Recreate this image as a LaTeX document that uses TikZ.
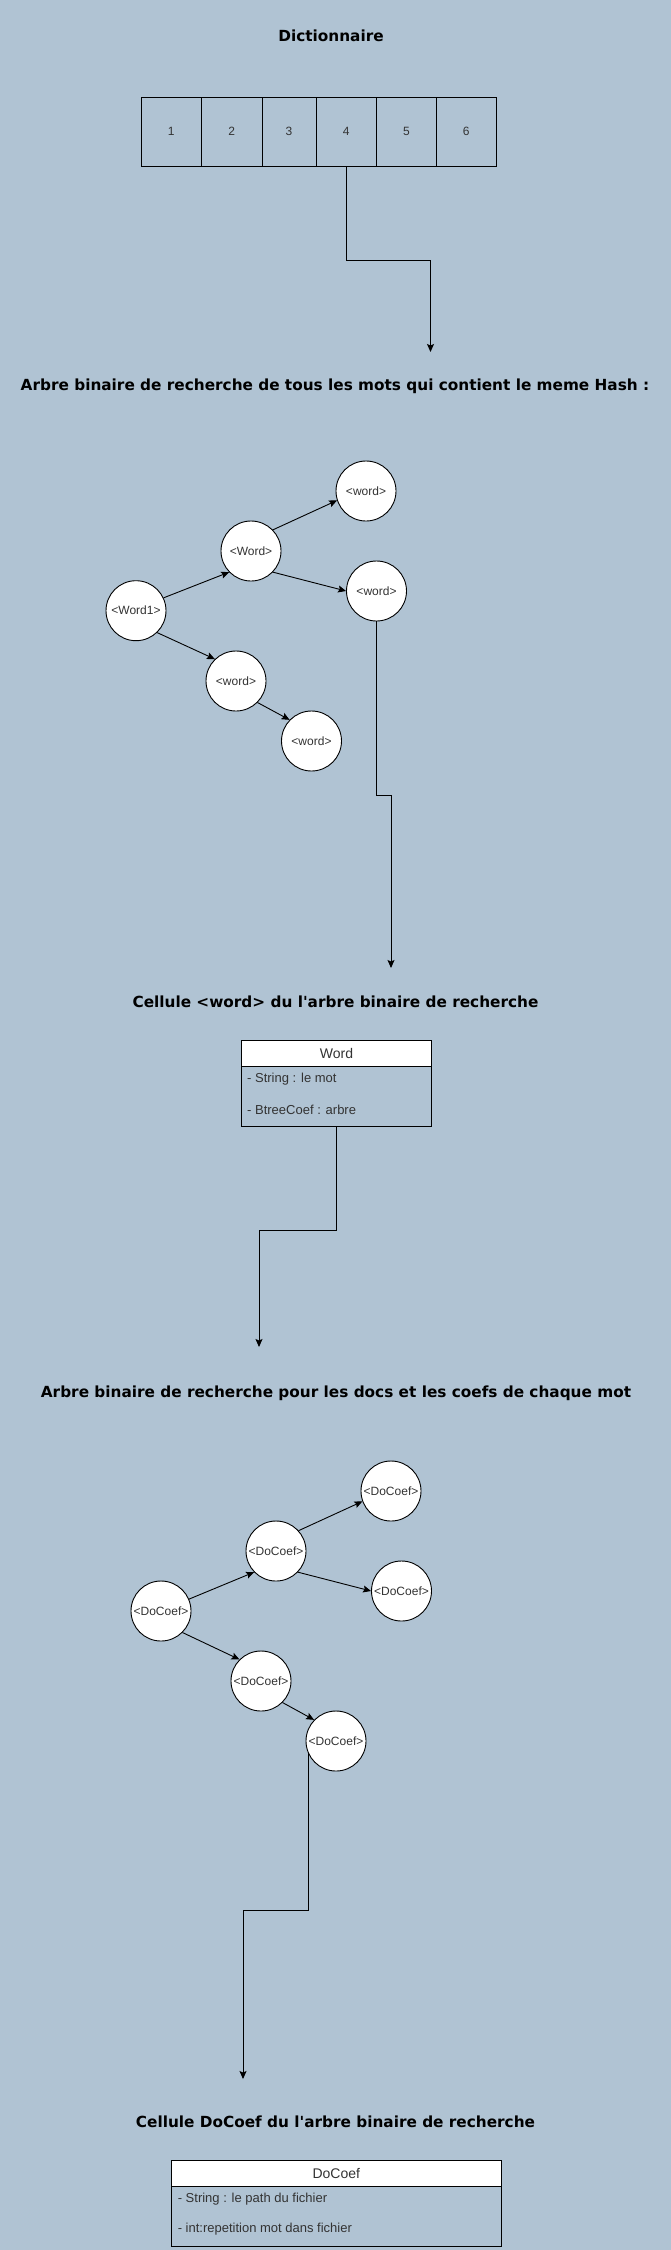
\documentclass[tikz,border=0pt]{standalone}
\usepackage{fontspec}
\setmainfont{Liberation Sans}
\newfontfamily\titlefont{DejaVu Sans}
\usetikzlibrary{arrows.meta}
\definecolor{bg}{HTML}{B0C3D3}
\definecolor{txt}{HTML}{333333}
\begin{document}
\begin{tikzpicture}[x=1pt,y=-1pt,
  title/.style={font=\titlefont\fontsize{15.3}{18}\selectfont\bfseries, text=black, inner sep=0pt},
  cell/.style={draw, line width=0.9pt, minimum height=69pt, inner sep=0pt, font=\fontsize{12}{14}\selectfont, text=txt},
  bnode/.style={circle, draw, line width=0.9pt, fill=white, minimum size=60pt, inner sep=0pt, font=\fontsize{12}{14}\selectfont, text=txt},
  edge/.style={line width=0.9pt, -{Stealth[length=8pt,width=7pt,inset=1.5pt]}},
  hdr/.style={draw, line width=0.9pt, fill=white, inner sep=0pt, font=\fontsize{14}{16}\selectfont, text=txt},
  body/.style={draw, line width=0.9pt, inner sep=0pt},
  attr/.style={anchor=west, inner sep=0pt, font=\fontsize{13}{15}\selectfont, text=txt}
]
\fill[bg] (0,0) rectangle (671,2250);
\useasboundingbox (0,0) rectangle (671,2250);

% ---- Dictionnaire
\node[title] (t1) at (331,36) {Dictionnaire};
\node[cell, minimum width=60.5pt] (c1) at (171.25,131.5) {1};
\node[cell, minimum width=60.5pt] (c2) at (231.75,131.5) {2};
\node[cell, minimum width=54pt]   (c3) at (289,131.5) {3};
\node[cell, minimum width=60.5pt] (c4) at (346.25,131.5) {4};
\node[cell, minimum width=60pt]   (c5) at (406.5,131.5) {5};
\node[cell, minimum width=59.5pt] (c6) at (466.25,131.5) {6};
\coordinate (a1) at (430.5,260);
\coordinate (a2) at (430.5,352);
\draw[edge] (c4.south) |- (a1) -- (a2);

% ---- Arbre des mots
\node[title] (t2) at (335,386.7) {Arbre binaire de recherche de tous les mots qui contient le meme Hash :};
\node[bnode] (w1) at (136,610.7) {<Word1>};
\node[bnode] (wm) at (251,551) {<Word>};
\node[bnode] (wt) at (366,491) {<word>};
\node[bnode] (wr) at (376.5,591) {<word>};
\node[bnode] (wl) at (236,681) {<word>};
\node[bnode] (wb) at (311.5,741) {<word>};
\draw[edge] (w1.25) -- (wm.224);
\draw[edge] (wm.44) -- (wt.198);
\draw[edge] (wm.-44) -- (wr.west);
\draw[edge] (w1.-46) -- (wl.134);
\draw[edge] (wl.-45) -- (wb.136);
\coordinate (b1) at (391,795.7);
\coordinate (b2) at (391,968);
\draw[edge] (wr.south) |- (b1) -- (b2);

% ---- Cellule word
\node[title] (t3) at (335.5,1001.7) {Cellule <word> du l\char39 arbre binaire de recherche};
\node[hdr, minimum width=189.5pt, minimum height=26.4pt] (wh) at (336.5,1053.5) {Word};
\node[body, minimum width=189.5pt, minimum height=59.3pt] (wbody) at (336.5,1096.4) {};
\node[attr] (wa1) at (247,1079.3) {- String : le mot};
\node[attr] (wa2) at (247,1109.7) {- BtreeCoef : arbre};
\coordinate (e1) at (259,1230);
\coordinate (e2) at (259,1347);
\draw[edge] (wbody.south) |- (e1) -- (e2);

% ---- Arbre des DoCoef
\node[title] (t4) at (336,1393) {Arbre binaire de recherche pour les docs et les coefs de chaque mot};
\node[bnode] (d1) at (161,1611) {<DoCoef>};
\node[bnode] (dm) at (276,1551) {<DoCoef>};
\node[bnode] (dt) at (391,1491) {<DoCoef>};
\node[bnode] (dr) at (401.5,1591) {<DoCoef>};
\node[bnode] (dl) at (261,1681) {<DoCoef>};
\node[bnode] (db) at (336,1741) {<DoCoef>};
\draw[edge] (d1.23) -- (dm.224);
\draw[edge] (dm.42) -- (dt.200);
\draw[edge] (dm.-44) -- (dr.west);
\draw[edge] (d1.-45) -- (dl.135);
\draw[edge] (dl.-45) -- (db.136);
\coordinate (f1) at (243,1910);
\coordinate (f2) at (243,2079);
\draw[edge] (db.203) |- (f1) -- (f2);

% ---- Cellule DoCoef
\node[title] (t5) at (335.5,2122) {Cellule DoCoef du l\char39 arbre binaire de recherche};
\node[hdr, minimum width=329.4pt, minimum height=26.3pt] (dh) at (336.3,2173.2) {DoCoef};
\node[body, minimum width=329.4pt, minimum height=59.7pt] (dbody) at (336.3,2216.2) {};
\node[attr] (da1) at (177.6,2199.3) {- String : le path du fichier};
\node[attr] (da2) at (177.6,2229.3) {- int:repetition mot dans fichier};
\end{tikzpicture}
\end{document}
